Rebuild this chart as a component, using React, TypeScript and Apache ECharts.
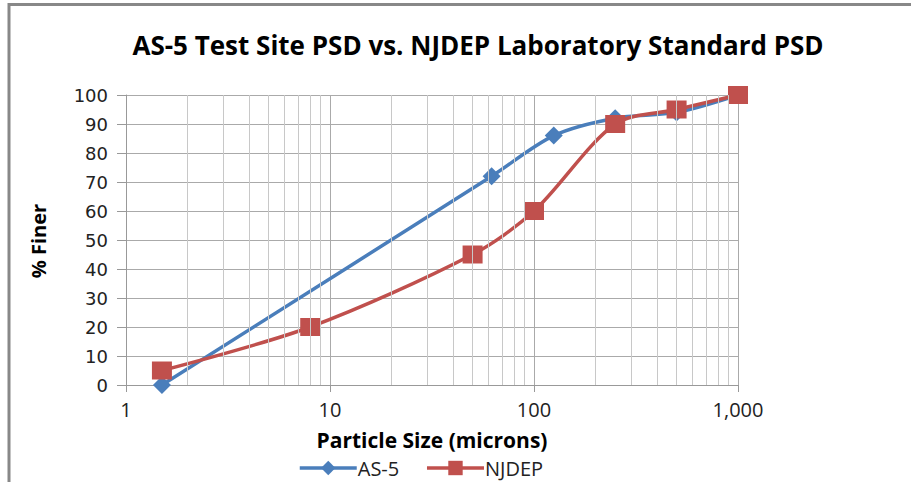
import React, { useEffect, useRef } from "react";
import * as echarts from "echarts";

const as5Sizes = [1.5, 62, 125, 250, 500, 1000];
const as5Finer = [0, 72, 86, 92, 94, 100];
const njdepSizes = [1.5, 8, 50, 100, 250, 500, 1000];
const njdepFiner = [5, 20, 45, 60, 90, 95, 100];
const minorGridValues = [2, 3, 4, 5, 6, 7, 8, 9, 20, 30, 40, 50, 60, 70, 80, 90, 200, 300, 400, 500, 600, 700, 800, 900];

const fmt = (v: number) => {
  const n = Math.round(v);
  return n.toString().replace(/\B(?=(\d{3})+(?!\d))/g, ",");
};

export default function App() {
  const ref = useRef<HTMLDivElement>(null);
  useEffect(() => {
    if (!ref.current) return;
    const chart = echarts.init(ref.current, undefined, { renderer: "svg" });
    const blue = "#4A7EBB";
    const red = "#C0504D";
    chart.setOption({
      animation: false,
      backgroundColor: "#fff",
      title: {
        text: "AS-5 Test Site PSD vs. NJDEP Laboratory Standard PSD",
        left: 473,
        top: 27,
        textAlign: "center",
        textStyle: { fontFamily: "Open Sans", fontWeight: "bold", fontSize: 26, color: "#000" },
      },
      grid: { left: 126, right: 173, top: 95, bottom: 97 },
      legend: {
        data: ["AS-5", "NJDEP"],
        left: 298,
        top: 458,
        padding: 0,
        itemWidth: 57,
        itemHeight: 18,
        itemGap: 26,
        lineStyle: { width: 3.5 },
        textStyle: { fontFamily: "Open Sans", fontSize: 20, lineHeight: 17, color: "#222", padding: [0, 0, 0, -4] },
      },
      xAxis: {
        type: "log",
        logBase: 10,
        min: 1,
        max: 1000,
        axisLine: { show: true, lineStyle: { color: "#999", width: 1 } },
        axisTick: { show: true, length: 7, lineStyle: { color: "#999" } },
        axisLabel: {
          formatter: (v: number) => fmt(v),
          fontFamily: "Open Sans",
          fontSize: 20,
          color: "#222",
          margin: 14,
        },
        splitLine: { show: true, lineStyle: { color: "#aaa", width: 1 } },
      },
      yAxis: {
        type: "value",
        min: 0,
        max: 100,
        interval: 10,
        axisLine: { show: true, lineStyle: { color: "#999", width: 1 } },
        axisTick: { show: true, length: 9, lineStyle: { color: "#999" } },
        axisLabel: { fontFamily: "DejaVu Sans", fontSize: 18, color: "#222", margin: 18 },
        splitLine: { show: true, lineStyle: { color: "#aaa", width: 1 } },
      },
      graphic: [
        {
          type: "line",
          shape: { x1: 9, y1: 4.5, x2: 911, y2: 4.5 },
          style: { stroke: "#888", lineWidth: 3 },
        },
        {
          type: "line",
          shape: { x1: 9, y1: 3, x2: 9, y2: 482 },
          style: { stroke: "#888", lineWidth: 3 },
        },
        {
          type: "text",
          x: 432,
          y: 440,
          style: {
            text: "Particle Size (microns)",
            fontFamily: "Open Sans",
            fontWeight: "bold",
            fontSize: 21,
            lineHeight: 22,
            fill: "#000",
            align: "center",
            verticalAlign: "middle",
          },
        },
        {
          type: "text",
          x: 38,
          y: 241,
          rotation: Math.PI / 2,
          style: {
            text: "% Finer",
            fontFamily: "Open Sans",
            fontWeight: "bold",
            fontSize: 20,
            fill: "#000",
            align: "center",
            verticalAlign: "middle",
          },
        },
      ],
      series: [
        {
          name: "minor",
          type: "line",
          data: as5Sizes.map((s, i) => [s, as5Finer[i]]),
          symbol: "none",
          lineStyle: { opacity: 0 },
          silent: true,
          z: 1,
          markLine: {
            silent: true,
            symbol: ["none", "none"],
            label: { show: false },
            lineStyle: { color: "#c8c8c8", type: "solid", width: 1 },
            data: minorGridValues.map((v) => ({ xAxis: v })),
          },
        },
        {
          name: "AS-5",
          type: "line",
          data: as5Sizes.map((s, i) => [s, as5Finer[i]]),
          smooth: 0.3,
          symbol: "diamond",
          symbolSize: 18,
          lineStyle: { color: blue, width: 3.5 },
          itemStyle: { color: blue },
          z: 3,
        },
        {
          name: "NJDEP",
          type: "line",
          data: njdepSizes.map((s, i) => [s, njdepFiner[i]]),
          smooth: 0.3,
          symbol: "rect",
          symbolSize: [20, 18],
          lineStyle: { color: red, width: 3.5 },
          itemStyle: { color: red },
          z: 4,
        },
      ],
    });
    return () => chart.dispose();
  }, []);
  return <div ref={ref} style={{ width: 911, height: 482, position: "absolute", left: 0, top: 0 }} />;
}
